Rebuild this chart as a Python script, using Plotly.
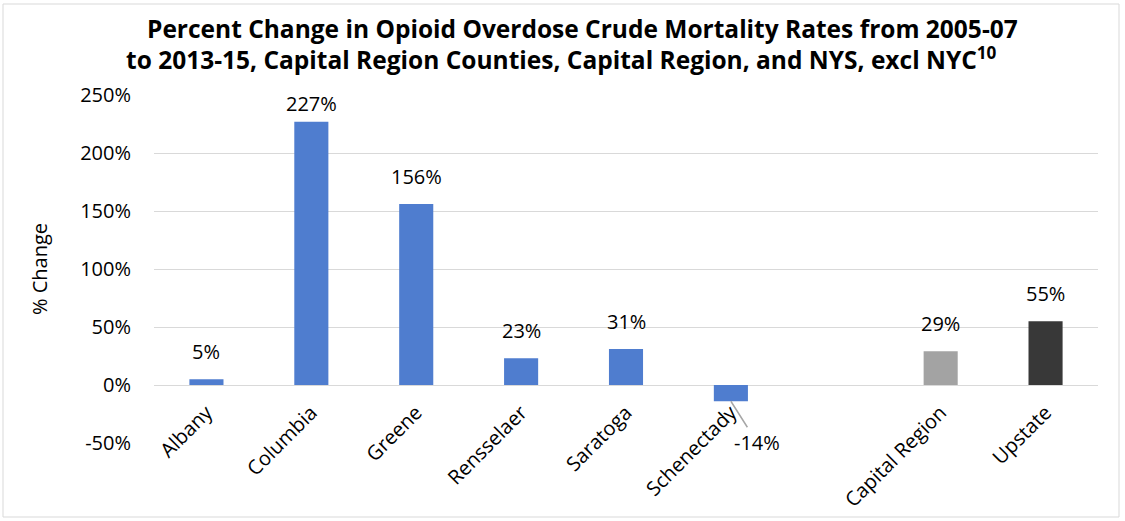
import plotly.graph_objects as go

categories = ["Albany", "Columbia", "Greene", "Rensselaer", "Saratoga",
              "Schenectady", " ", "Capital Region", "Upstate"]
values = [5, 227, 156, 23, 31, -14, None, 29, 55]
labels = ["5%", "227%", "156%", "23%", "31%", "-14%", "", "29%", "55%"]
bar_colors = ["#4f7dcf", "#4f7dcf", "#4f7dcf", "#4f7dcf", "#4f7dcf",
              "#4f7dcf", "#4f7dcf", "#a3a3a3", "#383838"]
y_ticks = [-50, 0, 50, 100, 150, 200, 250]
y_tick_text = ["-50%", "0%", "50%", "100%", "150%", "200%", "250%"]
title_line1 = "Percent Change in Opioid Overdose Crude Mortality Rates from 2005-07"
title_line2 = "to 2013-15, Capital Region Counties, Capital Region, and NYS, excl NYC<sup>10</sup>"

FONT = "Open Sans"
W, H = 1125, 521
L, R, T, B = 154, 27, 95, 78
pw, ph = W - L - R, H - T - B
Y_MIN, Y_MAX = -50, 250
px_per_unit = ph / (Y_MAX - Y_MIN)


def px_to_paper_x(px):
    return (px - L) / pw


def px_to_paper_y(py):
    return (H - B - py) / ph


fig = go.Figure()
fig.add_trace(go.Bar(
    x=categories, y=values, marker=dict(color=bar_colors, line=dict(width=0)),
    width=0.325, showlegend=False, hoverinfo="skip",
))

# data labels
for cat, v, lab in zip(categories, values, labels):
    if v is None or lab == "":
        continue
    if v >= 0:
        space = (Y_MAX - v) * px_per_unit
        fig.add_annotation(
            x=cat, y=v, text=lab, showarrow=False, yanchor="bottom",
            yshift=min(12, space - 24),
            font=dict(family=FONT, size=20, color="#000000"),
        )
    else:
        fig.add_annotation(
            x=cat, y=v, text=lab, showarrow=True, arrowhead=0,
            arrowcolor="#a6a6a6", arrowwidth=1.5, ax=26, ay=41, standoff=0,
            font=dict(family=FONT, size=20, color="#000000"),
        )

# two-line title
fig.add_annotation(
    text=title_line1, xref="paper", yref="paper",
    x=px_to_paper_x(582), y=px_to_paper_y(29), xanchor="center", yanchor="middle",
    showarrow=False, font=dict(family=FONT, size=24.5, color="#000000", weight="bold"),
)
fig.add_annotation(
    text=title_line2, xref="paper", yref="paper",
    x=px_to_paper_x(561), y=px_to_paper_y(58), xanchor="center", yanchor="middle",
    showarrow=False, font=dict(family=FONT, size=24.5, color="#000000", weight="bold"),
)

fig.update_layout(
    width=W, height=H,
    margin=dict(l=L, r=R, t=T, b=B, autoexpand=False),
    paper_bgcolor="white", plot_bgcolor="white",
    xaxis=dict(
        type="category", anchor="free", position=(0 - Y_MIN) / (Y_MAX - Y_MIN),
        tickangle=-45, showgrid=False, showline=False, ticks="",
        tickmode="array", tickvals=[c for c in categories if c.strip()],
        ticklabelstandoff=11, automargin=False,
        tickfont=dict(family=FONT, size=20, color="#000000"),
        range=[-0.5, len(categories) - 0.5],
    ),
    yaxis=dict(
        range=[Y_MIN, Y_MAX], tickvals=y_ticks, ticktext=y_tick_text,
        showgrid=True, gridcolor="#d9d9d9", gridwidth=1,
        zeroline=True, zerolinecolor="#d9d9d9", zerolinewidth=1,
        showline=False, ticks="", ticklabelstandoff=22, automargin=False,
        tickfont=dict(family=FONT, size=20, color="#000000"),
        title=dict(text="% Change", font=dict(family=FONT, size=20, color="#000000"),
                   standoff=27),
    ),
    shapes=[dict(
        type="rect", xref="paper", yref="paper", layer="below",
        x0=px_to_paper_x(3), x1=px_to_paper_x(1119),
        y0=px_to_paper_y(517), y1=px_to_paper_y(4),
        line=dict(color="#d9d9d9", width=1), fillcolor="rgba(0,0,0,0)",
    )],
)

fig.write_html(
    "out.html",
    config={"displayModeBar": False, "responsive": False},
    post_script=(
        "var d=document.getElementById('{plot_id}');"
        "d.style.position='fixed';d.style.left='0px';d.style.top='0px';"
        "document.body.style.margin='0';document.body.style.overflow='hidden';"
    ),
)
